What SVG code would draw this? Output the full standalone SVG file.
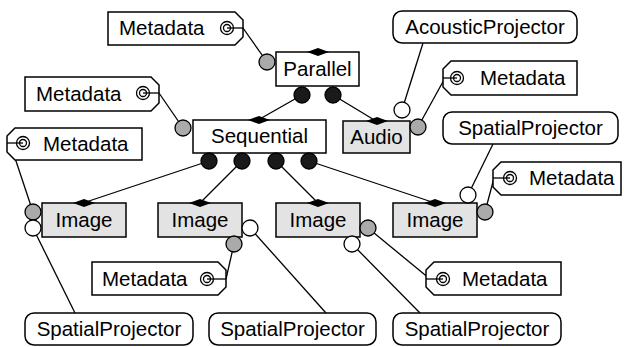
<svg xmlns="http://www.w3.org/2000/svg" width="624" height="347" viewBox="0 0 624 347">
<style>
text{font-family:"Liberation Sans",Arial,sans-serif;font-size:20.5px;fill:#000}
.box{fill:#fff;stroke:#000;stroke-width:1.5}
.gbox{fill:#e3e3e3;stroke:#000;stroke-width:1.5}
.tag{fill:#fff;stroke:#000;stroke-width:1.5}
.rb{fill:#fff;stroke:#000;stroke-width:1.5}
.ln{stroke:#000;stroke-width:1.3;fill:none}
.bc{fill:#1a1a1a;stroke:#000;stroke-width:1.3}
.gc{fill:#aaa;stroke:#000;stroke-width:1.3}
.wc{fill:#fff;stroke:#000;stroke-width:1.3}
.dm{fill:#000}
.tg{fill:none;stroke:#000;stroke-width:1.3}
</style>
<g id="connectors">
<line class="ln" x1="243" y1="28" x2="267" y2="62"/>
<line class="ln" x1="302" y1="95" x2="258" y2="120"/>
<line class="ln" x1="333" y1="95" x2="376" y2="121"/>
<line class="ln" x1="159" y1="93" x2="183" y2="128"/>
<line class="ln" x1="423" y1="43" x2="402" y2="110"/>
<line class="ln" x1="445" y1="78" x2="418" y2="127"/>
<line class="ln" x1="209" y1="161" x2="83" y2="203"/>
<line class="ln" x1="242" y1="161" x2="200" y2="203"/>
<line class="ln" x1="276" y1="161" x2="318" y2="203"/>
<line class="ln" x1="309" y1="161" x2="435" y2="203"/>
<line class="ln" x1="10" y1="143" x2="33" y2="212"/>
<line class="ln" x1="33" y1="228" x2="75" y2="313"/>
<line class="ln" x1="250" y1="228" x2="326" y2="313"/>
<line class="ln" x1="234" y1="244" x2="226" y2="279"/>
<line class="ln" x1="368" y1="228" x2="430" y2="279"/>
<line class="ln" x1="352" y1="244" x2="420" y2="313"/>
<line class="ln" x1="468" y1="195" x2="493" y2="144"/>
<line class="ln" x1="485" y1="212" x2="494" y2="178"/>
</g>
<g id="parallel">
<rect class="box" x="276" y="52" width="83" height="34"/>
<path class="dm" d="M307 52 L318 48 L329 52 L318 56 Z"/>
<text x="317.5" y="76" text-anchor="middle">Parallel</text>
<circle class="gc" cx="267" cy="62" r="8"/>
<circle class="bc" cx="302" cy="95" r="8"/>
<circle class="bc" cx="333" cy="95" r="8"/>
</g>
<g id="sequential">
<rect class="box" x="193" y="120" width="133" height="33"/>
<path class="dm" d="M248 120 L259 116 L270 120 L259 124 Z"/>
<text x="259.5" y="143" text-anchor="middle">Sequential</text>
<circle class="gc" cx="183" cy="128" r="8"/>
<circle class="bc" cx="209" cy="161" r="8"/>
<circle class="bc" cx="242" cy="161" r="8"/>
<circle class="bc" cx="276" cy="161" r="8"/>
<circle class="bc" cx="309" cy="161" r="8"/>
</g>
<g id="audio">
<rect class="gbox" x="343" y="121" width="67" height="32"/>
<path class="dm" d="M366 121 L377 117 L388 121 L377 125 Z"/>
<text x="376.5" y="144" text-anchor="middle">Audio</text>
<circle class="wc" cx="402" cy="110" r="8"/>
<circle class="gc" cx="418" cy="127" r="8"/>
</g>
<g id="image1">
<rect class="gbox" x="42" y="203" width="84" height="34"/>
<path class="dm" d="M73 203 L84 199 L95 203 L84 207 Z"/>
<text x="84" y="227" text-anchor="middle">Image</text>
<circle class="gc" cx="33" cy="212" r="8"/>
<circle class="wc" cx="33" cy="228" r="8"/>
</g>
<g id="image2">
<rect class="gbox" x="158" y="203" width="84" height="34"/>
<path class="dm" d="M189 203 L200 199 L211 203 L200 207 Z"/>
<text x="200" y="227" text-anchor="middle">Image</text>
<circle class="wc" cx="250" cy="228" r="8"/>
<circle class="gc" cx="234" cy="244" r="8"/>
</g>
<g id="image3">
<rect class="gbox" x="276" y="203" width="84" height="34"/>
<path class="dm" d="M307 203 L318 199 L329 203 L318 207 Z"/>
<text x="318" y="227" text-anchor="middle">Image</text>
<circle class="gc" cx="368" cy="228" r="8"/>
<circle class="wc" cx="352" cy="244" r="8"/>
</g>
<g id="image4">
<rect class="gbox" x="393" y="203" width="84" height="34"/>
<path class="dm" d="M424 203 L435 199 L446 203 L435 207 Z"/>
<text x="435" y="227" text-anchor="middle">Image</text>
<circle class="wc" cx="468" cy="195" r="8"/>
<circle class="gc" cx="485" cy="212" r="8"/>
</g>
<g id="metadata1">
<path class="tag" d="M108 12 H235 L243 20 V37 L235 45 H108 Z"/>
<text x="119" y="35">Metadata</text>
<circle class="tg" cx="227" cy="28" r="6.5"/><circle class="tg" cx="227" cy="28" r="3.5"/>
<line class="tg" x1="227" y1="28" x2="243" y2="28"/>
</g>
<g id="metadata2">
<path class="tag" d="M25 77 H151 L159 85 V103 L151 111 H25 Z"/>
<text x="36" y="101">Metadata</text>
<circle class="tg" cx="143" cy="93" r="6.5"/><circle class="tg" cx="143" cy="93" r="3.5"/>
<line class="tg" x1="143" y1="93" x2="159" y2="93"/>
</g>
<g id="metadata3">
<path class="tag" d="M15 128 H142 V160 H15 L7 152 V136 Z"/>
<text x="43" y="151">Metadata</text>
<circle class="tg" cx="23" cy="143" r="6.5"/><circle class="tg" cx="23" cy="143" r="3.5"/>
<line class="tg" x1="7" y1="143" x2="23" y2="143"/>
</g>
<g id="metadata4">
<path class="tag" d="M451 61 H577 V95 H451 L443 87 V69 Z"/>
<text x="480" y="85">Metadata</text>
<circle class="tg" cx="457" cy="78" r="6.5"/><circle class="tg" cx="457" cy="78" r="3.5"/>
<line class="tg" x1="443" y1="78" x2="457" y2="78"/>
</g>
<g id="metadata5">
<path class="tag" d="M501 162 H621 V195 H501 L493 187 V170 Z"/>
<text x="529" y="185">Metadata</text>
<circle class="tg" cx="510" cy="178" r="6.5"/><circle class="tg" cx="510" cy="178" r="3.5"/>
<line class="tg" x1="493" y1="178" x2="510" y2="178"/>
</g>
<g id="metadata6">
<path class="tag" d="M92 262 H218 L226 270 V287 L218 295 H92 Z"/>
<text x="102" y="286">Metadata</text>
<circle class="tg" cx="207" cy="279" r="6.5"/><circle class="tg" cx="207" cy="279" r="3.5"/>
<line class="tg" x1="207" y1="279" x2="226" y2="279"/>
</g>
<g id="metadata7">
<path class="tag" d="M434 262 H561 V295 H434 L426 287 V270 Z"/>
<text x="462" y="286">Metadata</text>
<circle class="tg" cx="443" cy="279" r="6.5"/><circle class="tg" cx="443" cy="279" r="3.5"/>
<line class="tg" x1="426" y1="279" x2="443" y2="279"/>
</g>
<g id="acousticprojector">
<rect class="rb" x="393" y="11" width="184" height="32" rx="9"/>
<text x="485" y="34" text-anchor="middle">AcousticProjector</text>
</g>
<g id="spatialprojector4">
<rect class="rb" x="443" y="112" width="175" height="32" rx="9"/>
<text x="530.5" y="135" text-anchor="middle">SpatialProjector</text>
</g>
<g id="spatialprojector1">
<rect class="rb" x="25" y="313" width="168" height="32" rx="9"/>
<text x="109" y="336" text-anchor="middle">SpatialProjector</text>
</g>
<g id="spatialprojector2">
<rect class="rb" x="209" y="313" width="167" height="32" rx="9"/>
<text x="292.5" y="336" text-anchor="middle">SpatialProjector</text>
</g>
<g id="spatialprojector3">
<rect class="rb" x="393" y="313" width="168" height="32" rx="9"/>
<text x="477" y="336" text-anchor="middle">SpatialProjector</text>
</g>
</svg>
